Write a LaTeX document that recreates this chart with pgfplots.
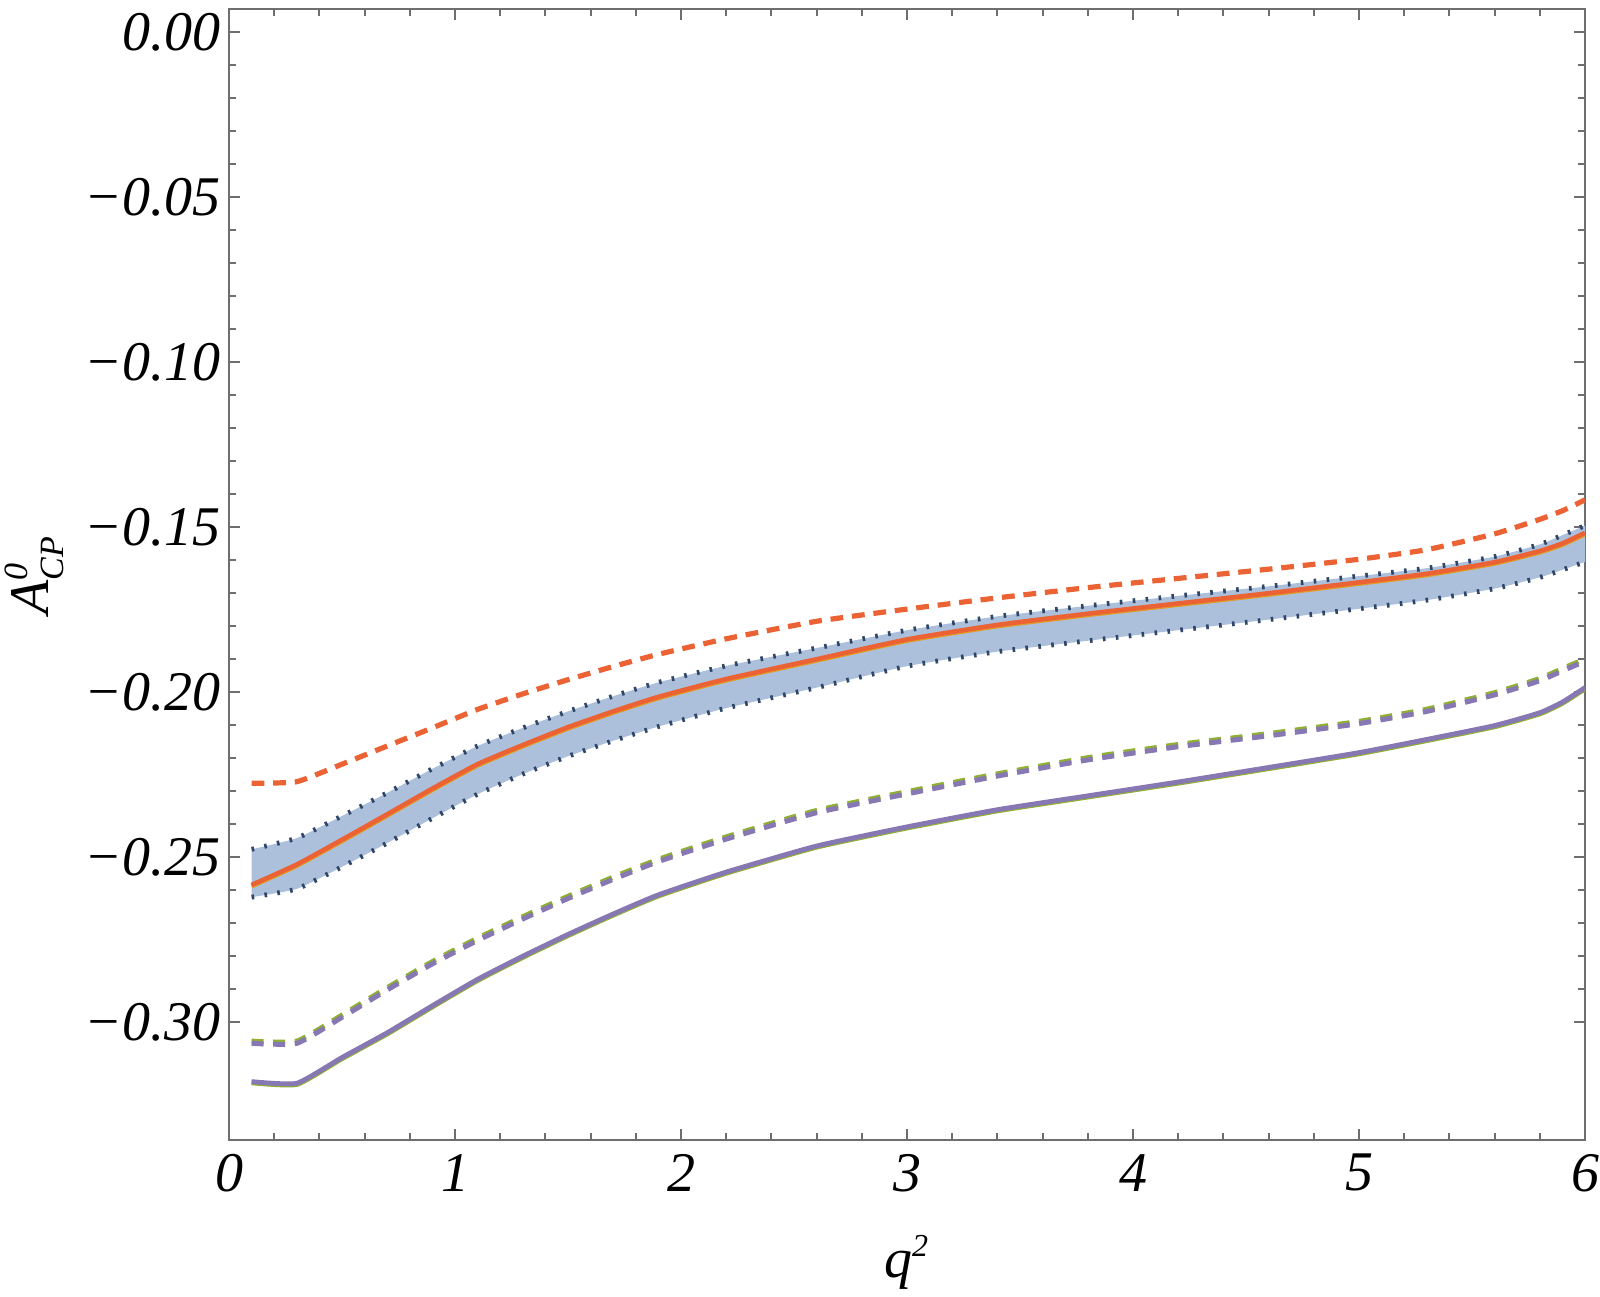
\documentclass[border=0pt]{standalone}
\usepackage{fontspec}
\setmainfont{Liberation Serif}
\usepackage{amsmath}
\usepackage{pgfplots}
\usepackage{pgfplotstable}
\pgfplotsset{compat=1.18}
\usepgfplotslibrary{fillbetween}
\definecolor{bandfill}{RGB}{173,192,219}
\definecolor{bandedge}{RGB}{47,70,105}
\definecolor{morange}{RGB}{235,98,53}
\definecolor{myellow}{RGB}{225,156,36}
\definecolor{mpurple}{RGB}{135,120,179}
\definecolor{mgreen}{RGB}{143,176,50}
\definecolor{framegray}{RGB}{110,110,110}
\pgfplotstableread{
x up lo c cd pd ps
0.1 -0.2476 -0.2621 -0.2584 -0.2276 -0.3064 -0.3180
0.3 -0.2442 -0.2596 -0.2522 -0.2271 -0.3064 -0.3185
0.5 -0.2375 -0.2529 -0.2447 -0.2218 -0.2985 -0.3107
0.7 -0.2305 -0.2457 -0.2370 -0.2163 -0.2902 -0.3032
0.9 -0.2232 -0.2382 -0.2292 -0.2108 -0.2823 -0.2950
1.1 -0.2163 -0.2309 -0.2218 -0.2052 -0.2752 -0.2870
1.3 -0.2108 -0.2248 -0.2160 -0.2005 -0.2687 -0.2800
1.5 -0.2058 -0.2194 -0.2106 -0.1962 -0.2625 -0.2734
1.7 -0.2012 -0.2147 -0.2058 -0.1922 -0.2567 -0.2672
1.9 -0.1970 -0.2104 -0.2014 -0.1885 -0.2513 -0.2614
2.2 -0.1920 -0.2048 -0.1960 -0.1838 -0.2445 -0.2545
2.6 -0.1866 -0.1986 -0.1900 -0.1785 -0.2365 -0.2466
3.0 -0.1812 -0.1921 -0.1840 -0.1748 -0.2308 -0.2408
3.4 -0.1770 -0.1877 -0.1796 -0.1714 -0.2254 -0.2356
3.8 -0.1738 -0.1844 -0.1762 -0.1683 -0.2205 -0.2314
4.2 -0.1708 -0.1812 -0.1731 -0.1655 -0.2165 -0.2272
4.6 -0.1679 -0.1780 -0.1700 -0.1627 -0.2132 -0.2228
5.0 -0.1648 -0.1747 -0.1667 -0.1597 -0.2095 -0.2183
5.3 -0.1624 -0.1721 -0.1641 -0.1568 -0.2058 -0.2143
5.6 -0.1589 -0.1686 -0.1606 -0.1520 -0.2008 -0.2101
5.8 -0.1552 -0.1652 -0.1572 -0.1476 -0.1965 -0.2062
5.9 -0.1524 -0.1629 -0.1549 -0.1450 -0.1935 -0.2030
6.0 -0.1495 -0.1605 -0.1517 -0.1417 -0.1906 -0.1986
}\datatab
\begin{document}
\begin{tikzpicture}
\begin{axis}[
  scale only axis, width=339pt, height=282.7pt,
  xmin=0, xmax=6, ymin=-0.3357, ymax=0.007,
  axis line style={framegray, line width=0.5pt},
  every tick/.style={framegray, line width=0.5pt},
  major tick length=2.75pt, minor tick length=1.75pt,
  xtick={0,1,2,3,4,5,6}, xticklabels={0,1,2,3,4,5,6},
  minor x tick num=4,
  ytick={-0.30,-0.25,-0.20,-0.15,-0.10,-0.05,0},
  yticklabels={−0.30,−0.25,−0.20,−0.15,−0.10,−0.05,0.00},
  minor y tick num=4,
  tick label style={font=\fontsize{14}{16}\selectfont\itshape},
  yticklabel style={inner xsep=2pt},
  xlabel={$\textit{q}^{\text{\fontsize{8}{8}\selectfont\itshape 2}}$},
  ylabel={$\textit{A}^{\text{\fontsize{8.5}{9}\selectfont\itshape 0}}_{\text{\fontsize{8.5}{9}\selectfont\itshape CP}}$},
  xlabel style={at={(axis description cs:0.5,-0.1079)}, anchor=center, font=\fontsize{14}{16}\selectfont},
  ylabel style={at={(axis description cs:-0.1438,0.5)}, anchor=center, font=\fontsize{14}{16}\selectfont},
  every axis plot/.append style={smooth, tension=0.3},
]
\addplot[draw=none, name path=U] table[x=x,y=up]{\datatab};
\addplot[draw=none, name path=L] table[x=x,y=lo]{\datatab};
\addplot[bandfill] fill between[of=U and L];
\addplot[bandedge, line width=1.2pt, dash pattern=on 0.65pt off 2.6pt] table[x=x,y=up]{\datatab};
\addplot[bandedge, line width=1.2pt, dash pattern=on 0.65pt off 2.6pt] table[x=x,y=lo]{\datatab};
\addplot[myellow, line width=1.15pt, yshift=-0.3pt] table[x=x,y=c]{\datatab};
\addplot[morange, line width=1.15pt] table[x=x,y=c]{\datatab};
\addplot[morange, line width=1.3pt, dash pattern=on 3.2pt off 2.2pt] table[x=x,y=cd]{\datatab};
\addplot[mgreen, line width=1.25pt, dash pattern=on 3.0pt off 2.4pt, yshift=0.55pt] table[x=x,y=pd]{\datatab};
\addplot[mpurple, line width=1.25pt, dash pattern=on 3.0pt off 2.4pt] table[x=x,y=pd]{\datatab};
\addplot[mgreen, line width=1.2pt, yshift=-0.3pt] table[x=x,y=ps]{\datatab};
\addplot[mpurple, line width=1.2pt] table[x=x,y=ps]{\datatab};
\coordinate (BL) at (rel axis cs:0,0);
\coordinate (TR) at (rel axis cs:1,1);
\end{axis}
\pgfresetboundingbox
\path ([xshift=-57.25pt,yshift=-39pt]BL) rectangle ([xshift=3.75pt,yshift=2.3pt]TR);
\end{tikzpicture}
\end{document}
